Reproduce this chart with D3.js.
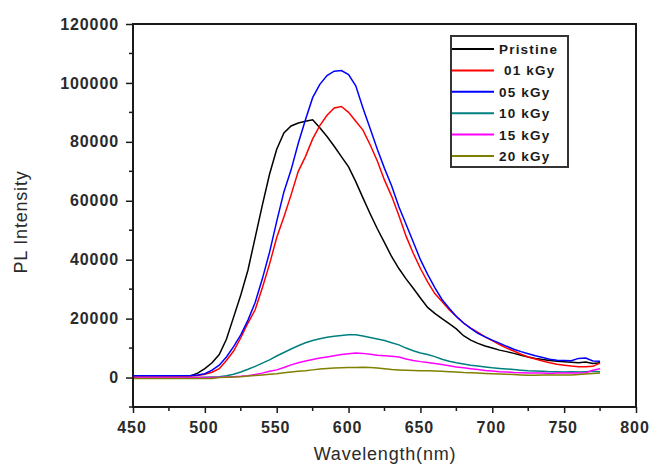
<!DOCTYPE html>
<html><head><meta charset="utf-8">
<script src="https://cdn.jsdelivr.net/npm/d3@7"></script>
<style>
html,body{margin:0;padding:0;background:#fff;}
svg{display:block;}
text{font-family:Arial,"Liberation Sans",sans-serif;}
</style></head>
<body><svg id="c" width="650" height="466"></svg>
<script>
const wavelengths = [450,470,490,495,500,505,510,515,520,525,530,535,540,545,550,555,560,565,570,575,580,585,590,595,600,605,610,615,620,625,630,635,640,645,650,655,660,665,670,675,680,685,690,695,700,705,710,715,720,725,730,735,740,745,750,755,760,765,770,775];
const pristine = [300,300,500,1500,3000,5000,7800,13000,20500,28000,36500,47500,58500,69000,77500,83000,85400,86400,87000,87500,84800,81800,78500,75000,71500,66500,61000,55600,50500,45800,41000,37000,33500,30300,27000,23800,21800,20000,18300,16500,14200,12700,11600,10700,10000,9300,8800,8200,7600,7000,6500,6100,5800,5500,5400,5200,5000,5300,4800,5000];
const kGy01 = [300,300,500,700,1100,1800,3000,5800,9000,13500,18500,23000,30500,38500,47500,54500,62000,70000,75000,81000,85500,89000,91500,92000,90000,87000,84000,79000,73500,67000,61500,55000,48000,42200,37000,32500,28500,25800,23000,20700,18500,16800,15300,13800,12500,11200,10000,9000,7900,7000,6300,5600,5000,4500,4200,3900,3700,3700,3800,4900];
const kGy05 = [600,600,700,900,1300,2500,4200,7000,10500,14500,19500,25500,33500,42500,53000,63000,70500,79500,87500,95000,99500,102500,104000,104200,102800,99000,91500,84500,77500,71000,65000,58000,52000,46000,40000,35000,30500,26500,23500,20700,18500,16700,15000,13800,12700,11700,10600,9600,8800,8100,7400,6800,6200,5900,5800,5700,6500,6600,5600,5500];
const kGy10 = [0,0,0,0,100,200,300,600,1100,1900,2800,3800,4900,6000,7300,8500,9700,10800,11800,12600,13200,13700,14000,14300,14500,14500,14100,13600,13100,12600,11800,11100,10000,9100,8300,7800,7100,6200,5500,5000,4600,4200,3900,3600,3300,3100,2900,2700,2500,2300,2200,2100,2000,2000,1900,2000,1900,2000,2100,2000];
const kGy15 = [0,0,0,0,0,0,100,200,300,400,600,1000,1500,2100,2600,3400,4300,5000,5600,6100,6600,7000,7400,7800,8100,8300,8200,7900,7600,7400,7200,7000,6300,5800,5400,5100,4800,4400,4000,3600,3300,3000,2700,2400,2200,2000,1900,1700,1600,1500,1500,1500,1400,1500,1500,1500,1500,1600,2500,3000];
const kGy20 = [-300,-300,-300,-300,-300,-300,0,100,200,300,500,700,900,1100,1300,1600,1900,2100,2300,2600,2900,3100,3200,3300,3400,3400,3500,3400,3200,3000,2700,2600,2500,2400,2300,2300,2200,2100,2000,1900,1700,1600,1500,1400,1300,1200,1100,1000,900,800,800,900,900,900,900,900,1000,1200,1400,1500];

const seriesNames = ["Pristine"," 01 kGy","05 kGy","10 kGy","15 kGy","20 kGy"];
const seriesColors = ["#000000","#ff0000","#0000ff","#008080","#ff00ff","#808000"];
const seriesValues = [pristine,kGy01,kGy05,kGy10,kGy15,kGy20];

const xTicks = [450,500,550,600,650,700,750,800];
const yTicks = [0,20000,40000,60000,80000,100000,120000];

const svg = d3.select("#c");
const L=133, R=636, T=24, B=407;
const x = d3.scaleLinear().domain([450,800]).range([L,R]);
const y = d3.scaleLinear().domain([-10000,120000]).range([B,T]);
const axisColor = "#1a1a1a";
const labelStyle = s => s.attr("font-size",16).attr("font-weight","bold").attr("fill","#2a2a2a").attr("letter-spacing","0.9px");

// curves
const line = d3.line().x((d,i)=>x(wavelengths[i])).y(d=>y(d)).curve(d3.curveLinear);
seriesValues.forEach((vals,k)=>{
  svg.append("path").datum(vals).attr("d",line).attr("fill","none")
    .attr("stroke",seriesColors[k]).attr("stroke-width",1.5);
});

// y axis
const yAxis = d3.axisLeft(y).tickValues(yTicks).tickSize(7).tickPadding(7).tickFormat(d3.format("d"));
const gy = svg.append("g").attr("transform",`translate(${L},0)`).call(yAxis);
gy.select(".domain").remove();
gy.selectAll(".tick line").attr("stroke",axisColor).attr("stroke-width",1.5);
gy.selectAll(".tick text").call(labelStyle).attr("font-family","Arial, 'Liberation Sans', sans-serif");
const yMinor = d3.range(-10000,120001,10000).filter(v=>!yTicks.includes(v));
gy.selectAll(".minor").data(yMinor).enter().append("line").attr("class","minor")
  .attr("x1",-4).attr("x2",0).attr("y1",d=>y(d)).attr("y2",d=>y(d)).attr("stroke",axisColor).attr("stroke-width",1.5);

// x axis
const xAxis = d3.axisBottom(x).tickValues(xTicks).tickSize(6).tickPadding(9).tickFormat(d3.format("d"));
const gx = svg.append("g").attr("transform",`translate(0,${B})`).call(xAxis);
gx.select(".domain").remove();
gx.selectAll(".tick line").attr("stroke",axisColor).attr("stroke-width",1.5);
gx.selectAll(".tick text").call(labelStyle).attr("font-family","Arial, 'Liberation Sans', sans-serif").attr("dx",-1.5);
const xMinor = d3.range(475,800,50);
gx.selectAll(".minor").data(xMinor).enter().append("line").attr("class","minor")
  .attr("x1",d=>x(d)).attr("x2",d=>x(d)).attr("y1",0).attr("y2",4).attr("stroke",axisColor).attr("stroke-width",1.5);

// frame
svg.append("rect").attr("x",L).attr("y",T).attr("width",R-L).attr("height",B-T)
  .attr("fill","none").attr("stroke",axisColor).attr("stroke-width",2);

// axis titles
svg.append("text").attr("transform",`translate(27,222) rotate(-90)`).attr("text-anchor","middle")
  .attr("font-size",18).attr("fill","#2a2a2a").attr("letter-spacing","0.8px").text("PL Intensity");
svg.append("text").attr("x",385).attr("y",460).attr("text-anchor","middle")
  .attr("font-size",18).attr("fill","#2a2a2a").attr("letter-spacing","0.8px").text("Wavelength(nm)");

// legend
const lg = svg.append("g");
lg.append("rect").attr("x",451).attr("y",36).attr("width",117).attr("height",131)
  .attr("fill","#fff").attr("stroke","#333").attr("stroke-width",2);
seriesNames.forEach((n,i)=>{
  const yy = 49 + i*21.4;
  lg.append("line").attr("x1",452).attr("x2",494).attr("y1",yy).attr("y2",yy)
    .attr("stroke",seriesColors[i]).attr("stroke-width",2);
  lg.append("text").attr("x",499).attr("y",yy+5).attr("font-size",13.5).attr("font-weight","bold")
    .attr("fill","#1a1a1a").attr("letter-spacing","1.2px").attr("xml:space","preserve").style("white-space","pre").text(n);
});
</script></body></html>
